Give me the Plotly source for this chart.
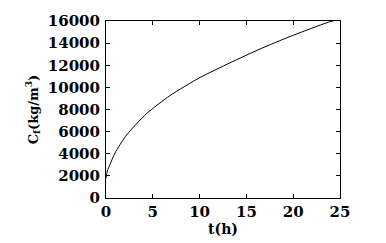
import plotly.graph_objects as go

t_hours = [0, 0.14, 0.43, 0.96, 2.2, 4.34, 6.84, 10.04, 13.25, 16.45, 19.66, 23.9, 24.3]
c_values = [1800, 2440, 3040, 4070, 5700, 7630, 9260, 10890, 12220, 13470, 14600, 15930, 16000]
x_ticks = [0, 5, 10, 15, 20, 25]
y_ticks = [0, 2000, 4000, 6000, 8000, 10000, 12000, 14000, 16000]
y_tick_labels = ["0", "2000", "4000", "6000", "8000", "10000", "12000", "14000", "16000"]

font_family = "DejaVu Serif"

fig = go.Figure()
fig.add_trace(go.Scatter(x=t_hours, y=c_values, mode="lines",
                         line=dict(color="black", width=1, shape="spline", smoothing=0.6),
                         showlegend=False, hoverinfo="skip"))

axis_common = dict(showgrid=False, zeroline=False, showline=True, linecolor="black",
                   linewidth=1, mirror="ticks", ticks="inside", ticklen=4,
                   tickcolor="black", tickwidth=1,
                   tickfont=dict(family=font_family, size=15, color="black"))

fig.update_layout(
    width=386, height=243,
    margin=dict(l=106, r=46, t=18, b=45),
    paper_bgcolor="white", plot_bgcolor="white",
    font=dict(family=font_family, size=15, color="black"),
    xaxis=dict(range=[0, 25], tickvals=x_ticks,
               ticktext=["<b>%d</b>" % v for v in x_ticks],
               ticklabelstandoff=0,
               title=dict(text="<b>t(h)</b>", standoff=0,
                          font=dict(family=font_family, size=14, color="black")),
               **axis_common),
    yaxis=dict(range=[0, 16000], tickvals=y_ticks,
               ticktext=["<b>%s</b>" % s for s in y_tick_labels],
               ticklabelstandoff=2,
               title=dict(text="<b>C<sub>f</sub>(kg/m<sup>3</sup>)</b>", standoff=6,
                          font=dict(family=font_family, size=13, color="black")),
               **axis_common),
)

fig.write_html("out.html")
